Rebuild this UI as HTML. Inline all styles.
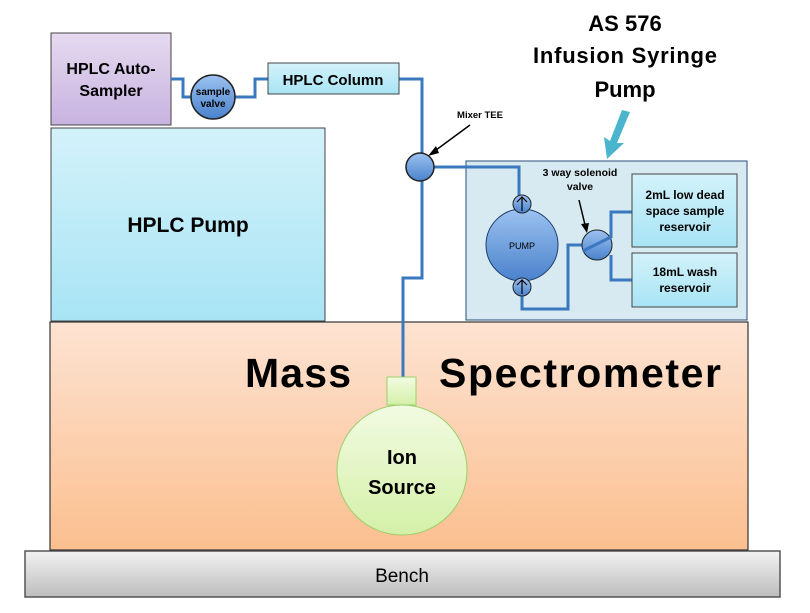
<!DOCTYPE html>
<html><head><meta charset="utf-8"><style>
html,body{margin:0;padding:0;background:#fff;width:810px;height:613px;overflow:hidden}
text{font-family:"Liberation Sans",sans-serif;font-weight:bold;fill:#000}
</style></head><body>
<svg width="810" height="613" viewBox="0 0 810 613" xmlns="http://www.w3.org/2000/svg">
<defs>
<linearGradient id="pur" x1="0" y1="0" x2="0" y2="1"><stop offset="0" stop-color="#e6daf0"/><stop offset="1" stop-color="#c8b3e0"/></linearGradient>
<linearGradient id="cy" x1="0" y1="0" x2="0" y2="1"><stop offset="0" stop-color="#d3f2fa"/><stop offset="1" stop-color="#a8e4f5"/></linearGradient>
<linearGradient id="pe" x1="0" y1="0" x2="0" y2="1"><stop offset="0" stop-color="#fde3d2"/><stop offset="1" stop-color="#fbbf8f"/></linearGradient>
<linearGradient id="gr" x1="0" y1="0" x2="0" y2="1"><stop offset="0" stop-color="#f2f2f2"/><stop offset="1" stop-color="#bdbdbd"/></linearGradient>
<linearGradient id="bl" x1="0" y1="0" x2="0" y2="1"><stop offset="0" stop-color="#9cc2f0"/><stop offset="1" stop-color="#4a82cc"/></linearGradient>
<linearGradient id="gn" x1="0" y1="0" x2="0" y2="1"><stop offset="0" stop-color="#f2fbe2"/><stop offset="1" stop-color="#d4f0a8"/></linearGradient>
</defs>
<rect x="25" y="551" width="755" height="46" fill="url(#gr)" stroke="#555" stroke-width="1.5"/>
<text x="402" y="582" font-size="19" text-anchor="middle" style="font-weight:normal">Bench</text>
<rect x="50" y="322" width="698" height="228" fill="url(#pe)" stroke="#333" stroke-width="1.2"/>
<text x="298" y="387" font-size="41" text-anchor="middle" textLength="106">Mass</text>
<text x="580" y="387" font-size="41" text-anchor="middle" textLength="282">Spectrometer</text>
<rect x="51" y="128" width="274" height="193" fill="url(#cy)" stroke="#444"/>
<text x="188" y="232" font-size="21" text-anchor="middle">HPLC Pump</text>
<rect x="51" y="33" width="120" height="92" fill="url(#pur)" stroke="#444"/>
<text x="111" y="74" font-size="16" text-anchor="middle">HPLC Auto-</text>
<text x="111" y="96" font-size="16" text-anchor="middle">Sampler</text>
<rect x="466" y="161" width="281" height="159" fill="#d7eaf1" stroke="#2a4d7a"/>
<g fill="none" stroke="#3a78c0" stroke-width="3">
<polyline points="171,79 183,79 183,97 213,97"/>
<polyline points="213,97 255,97 255,79 268,79"/>
<polyline points="399,79 422,79 422,278 403,278 403,378"/>
<polyline points="420,167 519,167 519,205"/>
<polyline points="522,290 522,309 568,309 568,245 597,245"/>
<polyline points="583,250 611,237 611,212 632,212"/>
<polyline points="611,255 611,280 632,280"/>
</g>
<circle cx="213" cy="97" r="22" fill="url(#bl)" stroke="#222" stroke-width="1.5"/>
<text x="213" y="95" font-size="10" text-anchor="middle">sample</text>
<text x="213" y="107" font-size="10" text-anchor="middle">valve</text>
<rect x="268" y="63" width="131" height="31" fill="url(#cy)" stroke="#444"/>
<text x="333" y="85" font-size="15" text-anchor="middle">HPLC Column</text>
<circle cx="420" cy="167" r="14" fill="url(#bl)" stroke="#222" stroke-width="1.5"/>
<text x="480" y="118" font-size="9.5" text-anchor="middle">Mixer TEE</text>
<line x1="470" y1="125" x2="432" y2="153" stroke="#000" stroke-width="1.5"/>
<polygon points="428,156 436,146 439,153" fill="#000"/>
<circle cx="522" cy="245" r="36" fill="url(#bl)" stroke="#1f3d6b"/>
<text x="522" y="249" font-size="9" text-anchor="middle" style="font-weight:normal">PUMP</text>
<circle cx="522" cy="204" r="9" fill="url(#bl)" stroke="#222"/>
<circle cx="522" cy="287" r="9" fill="url(#bl)" stroke="#222"/>
<g stroke="#000" stroke-width="1.2" fill="none"><path d="M522 211V197M517 202l5-5 5 5M522 294V280M517 285l5-5 5 5"/></g>
<circle cx="597" cy="245" r="15" fill="url(#bl)" stroke="#222"/>
<line x1="583" y1="251" x2="611" y2="237" stroke="#3a78c0" stroke-width="3"/>
<text x="580" y="176" font-size="10.5" text-anchor="middle">3 way solenoid</text>
<text x="580" y="190" font-size="10.5" text-anchor="middle">valve</text>
<line x1="579" y1="200" x2="586" y2="229" stroke="#000" stroke-width="1.5"/>
<polygon points="587,233 581,224 589,223" fill="#000"/>
<rect x="632" y="174" width="105" height="73" fill="url(#cy)" stroke="#444"/>
<text x="685" y="199" font-size="12" text-anchor="middle">2mL low dead</text>
<text x="685" y="215" font-size="12" text-anchor="middle">space sample</text>
<text x="685" y="231" font-size="12" text-anchor="middle">reservoir</text>
<rect x="632" y="253" width="105" height="54" fill="url(#cy)" stroke="#444"/>
<text x="685" y="276" font-size="12" text-anchor="middle">18mL wash</text>
<text x="685" y="292" font-size="12" text-anchor="middle">reservoir</text>
<polygon points="622,110 630,112 617,143 624,143 607,159 604,137 610,141" fill="#4ab5cc"/>
<text x="625" y="31" font-size="22" text-anchor="middle">AS 576</text>
<text x="625" y="63" font-size="22" text-anchor="middle" textLength="184">Infusion Syringe</text>
<text x="625" y="97" font-size="22" text-anchor="middle">Pump</text>
<rect x="387" y="377" width="29" height="28" fill="url(#gn)" stroke="#9ccf6a"/>
<circle cx="402" cy="470" r="65" fill="url(#gn)" stroke="#9ccf6a"/>
<text x="402" y="464" font-size="20" text-anchor="middle">Ion</text>
<text x="402" y="494" font-size="20" text-anchor="middle">Source</text>
</svg>
</body></html>
